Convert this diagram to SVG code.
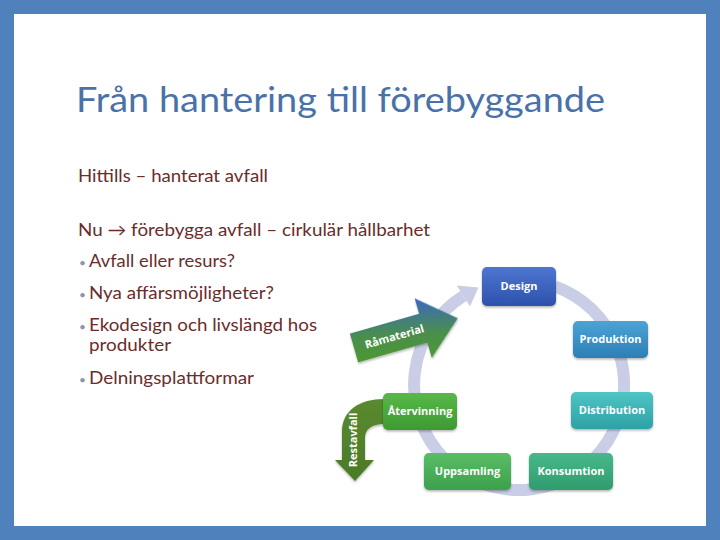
<svg xmlns="http://www.w3.org/2000/svg" width="720" height="540" viewBox="0 0 720 540">
<defs>
<style>
.title{font-family:Lato,"Open Sans","Liberation Sans",sans-serif;font-size:34px;fill:#4a72a8}
.body{font-family:Lato,"Open Sans","Liberation Sans",sans-serif;font-size:17px;fill:#6b2c2c}
.bul{font-family:Lato,"Liberation Sans",sans-serif;font-size:12px;fill:#8a96aa}
.lbl{font-family:"Open Sans","Liberation Sans",sans-serif;font-size:11px;font-weight:bold;fill:#ffffff;text-anchor:middle}
.box{stroke:none}
</style>
<linearGradient id="gDesign" x1="0" y1="0" x2="0" y2="1"><stop offset="0" stop-color="#4d76d0"/><stop offset="1" stop-color="#2d52ac"/></linearGradient>
<linearGradient id="gProd" x1="0" y1="0" x2="0" y2="1"><stop offset="0" stop-color="#4ba3d6"/><stop offset="1" stop-color="#2d7fb6"/></linearGradient>
<linearGradient id="gDist" x1="0" y1="0" x2="0" y2="1"><stop offset="0" stop-color="#4fc4c4"/><stop offset="1" stop-color="#2ea2a6"/></linearGradient>
<linearGradient id="gKons" x1="0" y1="0" x2="0" y2="1"><stop offset="0" stop-color="#48b88a"/><stop offset="1" stop-color="#2f9c6e"/></linearGradient>
<linearGradient id="gUpp" x1="0" y1="0" x2="0" y2="1"><stop offset="0" stop-color="#5abd66"/><stop offset="1" stop-color="#3ca04c"/></linearGradient>
<linearGradient id="gAter" x1="0" y1="0" x2="0" y2="1"><stop offset="0" stop-color="#58b84a"/><stop offset="1" stop-color="#3c9a30"/></linearGradient>
<linearGradient id="gRam" x1="0.35" y1="1" x2="0.75" y2="0"><stop offset="0" stop-color="#4f9a2c"/><stop offset="0.45" stop-color="#4a8f4a"/><stop offset="1" stop-color="#3a66c8"/></linearGradient>
<linearGradient id="gRest" x1="0" y1="0" x2="0" y2="1"><stop offset="0" stop-color="#5a8a30"/><stop offset="1" stop-color="#4a7a26"/></linearGradient>
<filter id="sh" x="-20%" y="-20%" width="140%" height="150%"><feDropShadow dx="0" dy="1.5" stdDeviation="1.2" flood-color="#000" flood-opacity="0.3"/></filter>
</defs>
<rect x="0" y="0" width="720" height="540" fill="#4f81bd"/>
<rect x="14" y="14" width="692" height="512" fill="#ffffff"/>

<text class="title" x="76" y="112" textLength="529" lengthAdjust="spacingAndGlyphs">Från hantering till förebyggande</text>
<text class="body" x="78" y="182" textLength="190" lengthAdjust="spacingAndGlyphs">Hittills – hanterat avfall</text>
<text class="body" x="78" y="236" textLength="352" lengthAdjust="spacingAndGlyphs">Nu → förebygga avfall – cirkulär hållbarhet</text>
<text class="bul" x="79" y="267">•</text>
<text class="body" x="89" y="267" textLength="146" lengthAdjust="spacingAndGlyphs">Avfall eller resurs?</text>
<text class="bul" x="79" y="299">•</text>
<text class="body" x="89" y="299" textLength="185" lengthAdjust="spacingAndGlyphs">Nya affärsmöjligheter?</text>
<text class="bul" x="79" y="331">•</text>
<text class="body" x="89" y="331" textLength="228" lengthAdjust="spacingAndGlyphs">Ekodesign och livslängd hos</text>
<text class="body" x="89" y="351" textLength="82" lengthAdjust="spacingAndGlyphs">produkter</text>
<text class="bul" x="79" y="384">•</text>
<text class="body" x="89" y="384" textLength="165" lengthAdjust="spacingAndGlyphs">Delningsplattformar</text>

<g id="connectors">
<path d="M 554.9 286.3 A 105 105 0 1 1 463.4 296.0" fill="none" stroke="#c9cee6" stroke-width="12"/>
<polygon points="456.8,285.5 470.0,306.5 478.5,287.5" fill="#c9cee6"/>
</g>

<g id="ramaterial" transform="translate(354,348) rotate(-16)">
<polygon points="0,-15 72,-15 72,-31 108,0 72,31 72,15 0,15" fill="url(#gRam)" filter="url(#sh)"/>
<text class="lbl" x="42" y="4" font-size="12">Råmaterial</text>
</g>

<g id="restavfall">
<path d="M 384 399 C 360 399 342 410 342 432 L 342 460 L 335 460 L 355 481 L 374 460 L 365 460 L 365 438 C 365 429 372 424 384 424 Z" fill="url(#gRest)" filter="url(#sh)"/>
<text class="lbl" transform="translate(357,440) rotate(-90)">Restavfall</text>
</g>

<g id="design">
<rect class="box" x="482" y="267" width="74" height="39" rx="5" fill="url(#gDesign)" filter="url(#sh)"/>
<text class="lbl" x="519" y="290">Design</text>
</g>
<g id="produktion">
<rect class="box" x="573" y="321" width="75" height="37" rx="5" fill="url(#gProd)" filter="url(#sh)"/>
<text class="lbl" x="610.5" y="343">Produktion</text>
</g>
<g id="distribution">
<rect class="box" x="571" y="392" width="82" height="37" rx="5" fill="url(#gDist)" filter="url(#sh)"/>
<text class="lbl" x="612" y="414">Distribution</text>
</g>
<g id="konsumtion">
<rect class="box" x="529" y="453" width="84" height="37" rx="5" fill="url(#gKons)" filter="url(#sh)"/>
<text class="lbl" x="571" y="475">Konsumtion</text>
</g>
<g id="uppsamling">
<rect class="box" x="424" y="453" width="87" height="37" rx="5" fill="url(#gUpp)" filter="url(#sh)"/>
<text class="lbl" x="467.5" y="475">Uppsamling</text>
</g>
<g id="atervinning">
<rect class="box" x="383" y="393" width="74" height="37" rx="5" fill="url(#gAter)" filter="url(#sh)"/>
<text class="lbl" x="420" y="415">Återvinning</text>
</g>
</svg>
